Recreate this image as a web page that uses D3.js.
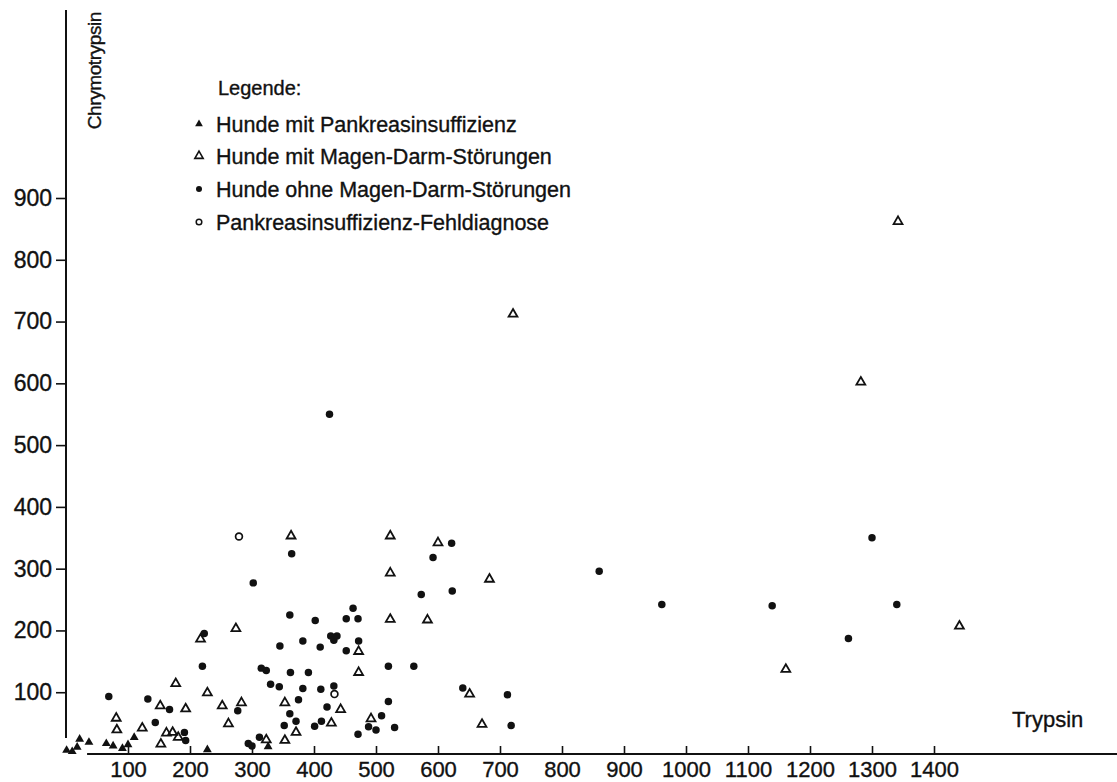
<!DOCTYPE html>
<html>
<head>
<meta charset="utf-8">
<script src="https://cdn.jsdelivr.net/npm/d3@7"></script>
<style>
  body { margin: 0; background: #fff; }
  text { font-family: "Liberation Sans", Arial, sans-serif; fill: #111; stroke: #111; stroke-width: 0.35px; }
</style>
</head>
<body>
<div id="chart"></div>
<script>
// values: [Trypsin, Chrymotrypsin]
const pankreasInsuff = [[1,6],[10,4],[18,11],[22,24],[37,19],[65,17],[76,13],[91,9],[100,15],[110,27],[228,7],[326,12]];
const magenDarm = [[81,58],[82,39],[123,42],[152,78],[153,16],[162,34],[172,35],[181,27],[177,114],[193,73],
  [217,186],[228,99],[252,78],[262,49],[274,203],[283,83],[323,23],[353,83],[353,22],[363,353],[371,35],
  [428,50],[443,72],[472,166],[472,132],[492,57],[523,353],[523,293],[523,218],[583,217],[600,342],
  [651,97],[671,48],[683,283],[721,712],[1161,137],[1282,602],[1342,862],[1441,207]];
const ohneStoerung = [[69,93],[132,89],[144,51],[167,72],[191,35],[193,22],[220,142],[223,195],[277,70],
  [294,17],[300,13],[302,277],[312,27],[315,139],[323,135],[330,113],[344,109],[345,175],[352,46],[361,65],
  [361,225],[362,132],[364,324],[371,53],[375,88],[382,106],[382,183],[391,132],[401,45],[402,216],[410,173],
  [411,105],[412,53],[421,76],[425,550],[427,191],[432,110],[432,184],[437,191],[452,167],[452,219],[463,236],
  [471,32],[471,219],[472,183],[488,44],[500,39],[509,62],[520,85],[520,142],[530,43],[561,142],[573,258],
  [592,318],[622,341],[623,264],[640,107],[712,96],[718,46],[860,296],[961,242],[1139,240],[1262,187],
  [1300,350],[1340,242]];
const fehldiagnose = [[279,352],[433,97]];

const xTicks = [100,200,300,400,500,600,700,800,900,1000,1100,1200,1300,1400];
const yTicks = [100,200,300,400,500,600,700,800,900];
const legendLabels = ["Hunde mit Pankreasinsuffizienz", "Hunde mit Magen-Darm-Störungen",
  "Hunde ohne Magen-Darm-Störungen", "Pankreasinsuffizienz-Fehldiagnose"];

const width = 1117, height = 782;
const ink = "#111";

const svg = d3.select("#chart")
  .append("svg")
    .attr("width", width)
    .attr("height", height);

const x = d3.scaleLinear().domain([0, 1400]).range([66, 934]);
const y = d3.scaleLinear().domain([0, 900]).range([754, 198]);

// X axis, ticks point up
svg.append("g")
  .attr("transform", `translate(0, ${y(0)})`)
  .style("color", ink)
  .call(d3.axisBottom(x).tickValues(xTicks).tickFormat(d3.format("d")).tickSize(-8).tickPadding(7))
  .call(g => g.select(".domain").remove())
  .call(g => g.selectAll(".tick line").attr("stroke-width", 1.6))
  .call(g => g.selectAll("text").style("font-size", "22px"));
svg.append("line")
  .attr("x1", x(34)).attr("x2", width)
  .attr("y1", y(0)).attr("y2", y(0))
  .attr("stroke", ink).attr("stroke-width", 2);

// Y axis
svg.append("g")
  .attr("transform", `translate(${x(0)}, 0)`)
  .style("color", ink)
  .call(d3.axisLeft(y).tickValues(yTicks).tickSize(10).tickPadding(4))
  .call(g => g.select(".domain").remove())
  .call(g => g.selectAll(".tick line").attr("stroke-width", 1.6))
  .call(g => g.selectAll("text").style("font-size", "23px"));
svg.append("line")
  .attr("x1", x(0)).attr("x2", x(0))
  .attr("y1", 10).attr("y2", y(26))
  .attr("stroke", ink).attr("stroke-width", 2);

// axis titles
svg.append("text")
  .attr("transform", `translate(101, 12) rotate(-90)`)
  .attr("text-anchor", "end")
  .style("font-size", "19px")
  .style("letter-spacing", "-0.4px")
  .text("Chrymotrypsin");
svg.append("text")
  .attr("x", 1012).attr("y", 727)
  .style("font-size", "22px")
  .text("Trypsin");

// symbols
const tri = d3.symbol().type(d3.symbolTriangle);
const dot = d3.symbol().type(d3.symbolCircle);

svg.selectAll("path.pi")
  .data(pankreasInsuff)
  .join("path")
    .attr("class", "pi")
    .attr("transform", d => `translate(${x(d[0])}, ${y(d[1])})`)
    .attr("d", tri.size(34))
    .attr("fill", ink);

svg.selectAll("path.md")
  .data(magenDarm)
  .join("path")
    .attr("class", "md")
    .attr("transform", d => `translate(${x(d[0])}, ${y(d[1])})`)
    .attr("d", tri.size(34))
    .attr("fill", "none")
    .attr("stroke", ink)
    .attr("stroke-width", 1.8);

svg.selectAll("path.os")
  .data(ohneStoerung)
  .join("path")
    .attr("class", "os")
    .attr("transform", d => `translate(${x(d[0])}, ${y(d[1])})`)
    .attr("d", dot.size(44))
    .attr("fill", ink);

svg.selectAll("circle.fd")
  .data(fehldiagnose)
  .join("circle")
    .attr("class", "fd")
    .attr("cx", d => x(d[0]))
    .attr("cy", d => y(d[1]))
    .attr("r", 3.4)
    .attr("fill", "none")
    .attr("stroke", ink)
    .attr("stroke-width", 1.7);

// Legend
const legend = svg.append("g").attr("transform", "translate(199, 0)");
legend.append("text")
  .attr("x", 19).attr("y", 88).attr("dy", "0.35em")
  .style("font-size", "20px")
  .text("Legende:");

const rowY = [124, 156, 189, 222];
const rows = legend.selectAll("g.row")
  .data(legendLabels)
  .join("g")
    .attr("class", "row")
    .attr("transform", (d, i) => `translate(0, ${rowY[i]})`);

rows.append("text")
  .attr("x", 17).attr("dy", "0.35em")
  .style("font-size", "21.5px")
  .text(d => d);

rows.each(function(d, i) {
  const g = d3.select(this);
  if (i === 0) g.append("path").attr("d", tri.size(26)).attr("fill", ink);
  if (i === 1) g.append("path").attr("d", tri.size(30)).attr("fill", "none").attr("stroke", ink).attr("stroke-width", 1.6);
  if (i === 2) g.append("circle").attr("r", 3).attr("fill", ink);
  if (i === 3) g.append("circle").attr("r", 2.8).attr("fill", "none").attr("stroke", ink).attr("stroke-width", 1.5);
});
</script>
</body>
</html>
